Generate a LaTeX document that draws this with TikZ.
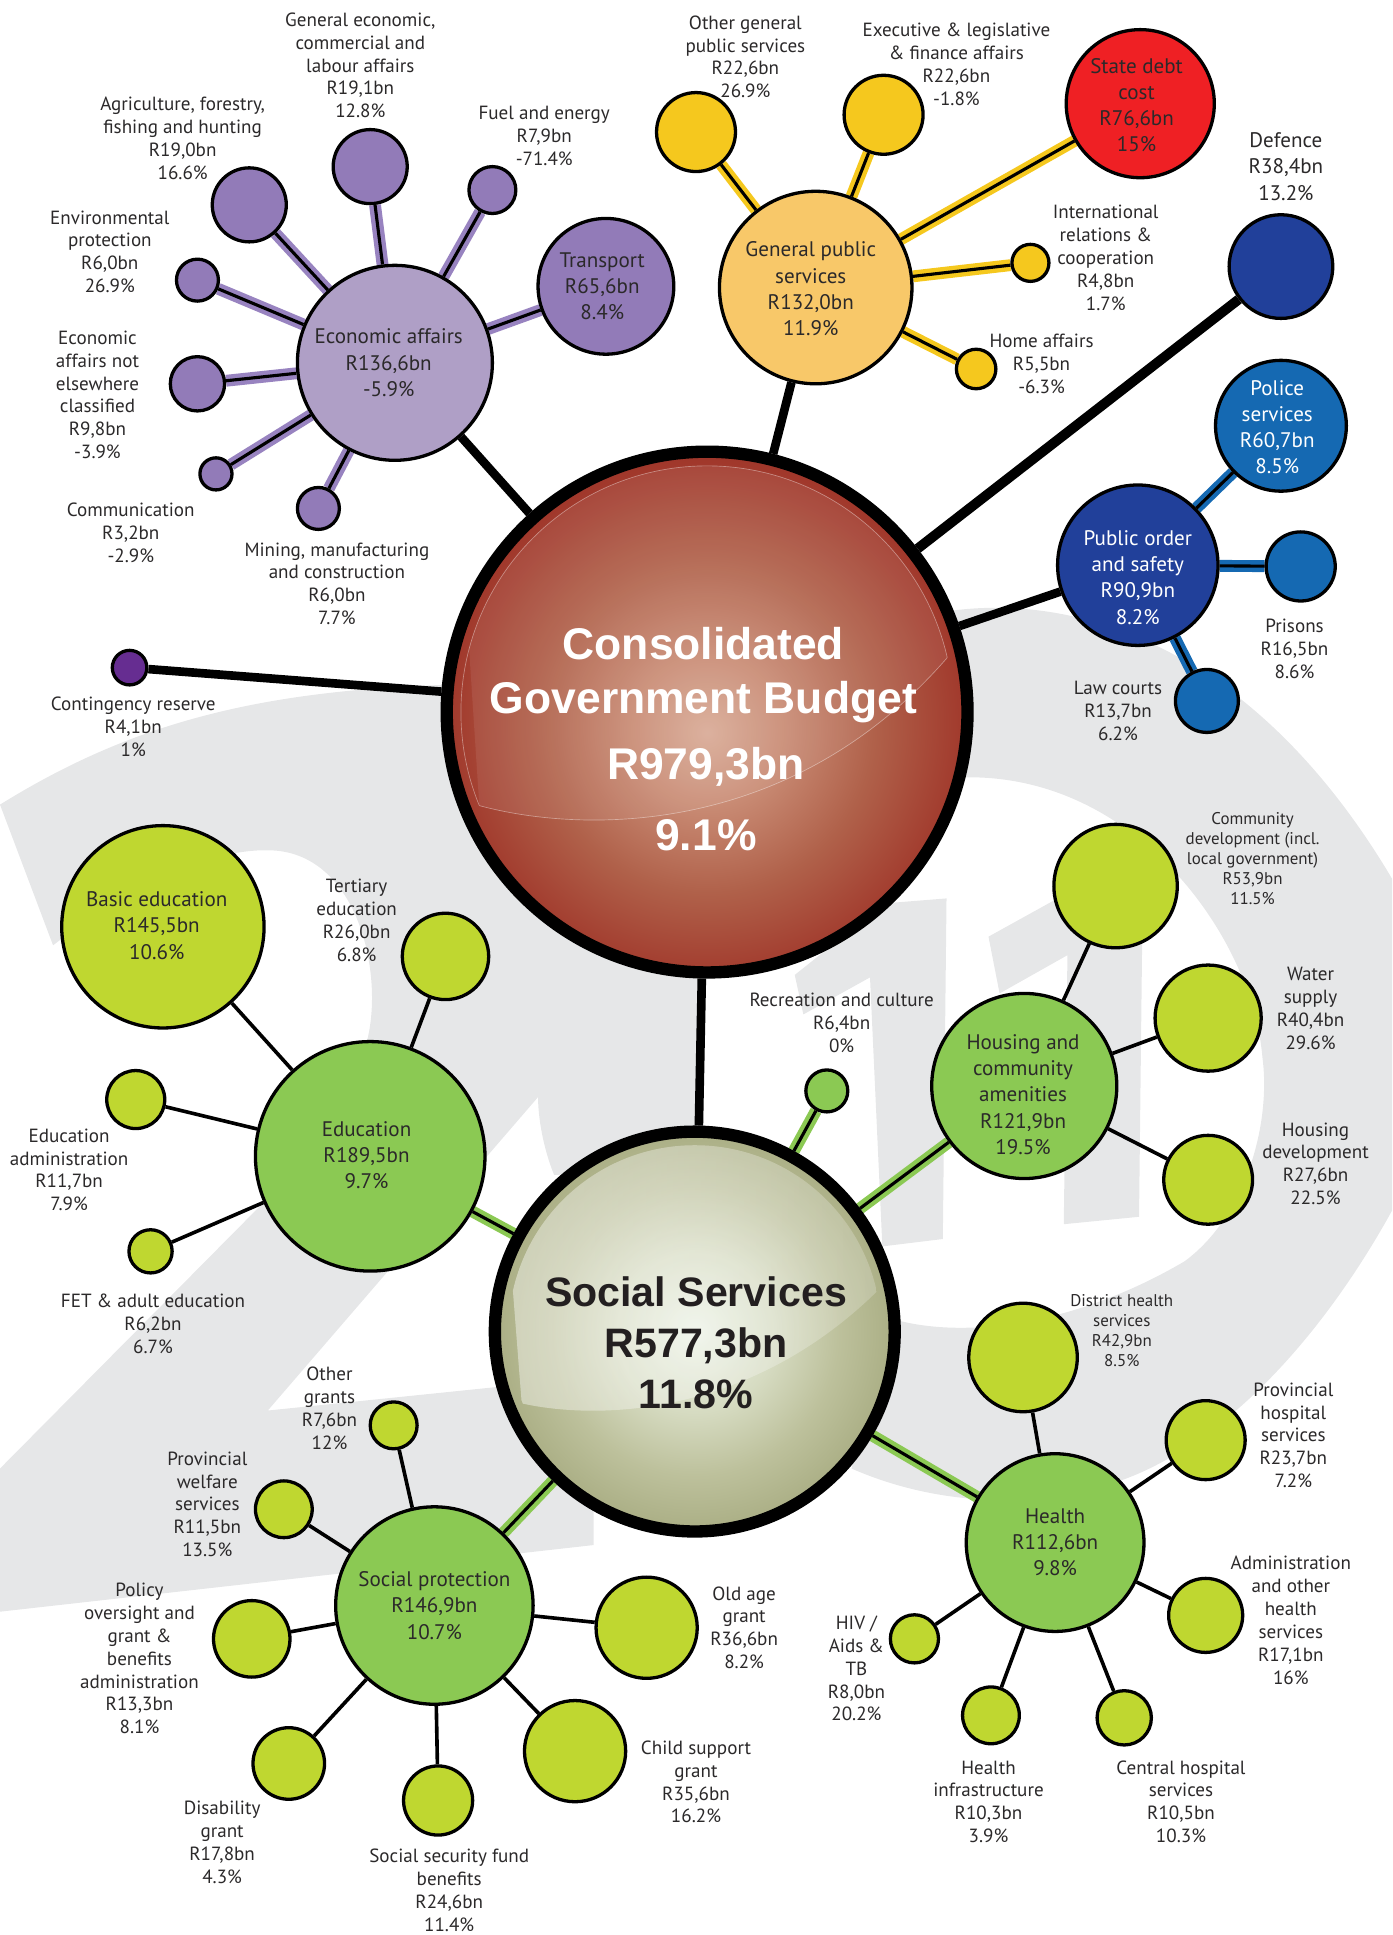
\documentclass[tikz,border=0pt]{standalone}
\usepackage{fontspec}
\usetikzlibrary{fadings}
\setmainfont{PT Sans}
\newfontfamily\heavy{Liberation Sans}
\definecolor{bggray}{HTML}{E6E7E8}
\definecolor{txt}{HTML}{2B292A}
\definecolor{purpleP}{HTML}{AF9FC6}
\definecolor{purpleC}{HTML}{927BB8}
\definecolor{purpleB}{HTML}{9883C0}
\definecolor{yellowP}{HTML}{F8C869}
\definecolor{yellowC}{HTML}{F5C81E}
\definecolor{redC}{HTML}{EF2024}
\definecolor{navy}{HTML}{21409A}
\definecolor{blueC}{HTML}{1569B2}
\definecolor{greenP}{HTML}{8BC953}
\definecolor{greenC}{HTML}{BFD730}
\definecolor{violetC}{HTML}{662D91}
\definecolor{socialtxt}{HTML}{231F20}
\pgfdeclareradialshading{rootball}{\pgfpoint{0bp}{-2bp}}{rgb(0bp)=(0.85,0.67,0.59);rgb(7bp)=(0.79,0.55,0.46);rgb(16bp)=(0.69,0.38,0.29);rgb(25bp)=(0.63,0.22,0.17);rgb(33bp)=(0.60,0.15,0.13);rgb(50bp)=(0.60,0.15,0.13)}
\pgfdeclareradialshading{socialball}{\pgfpoint{0bp}{0bp}}{rgb(0bp)=(0.925,0.95,0.90);rgb(10bp)=(0.84,0.86,0.76);rgb(18bp)=(0.74,0.755,0.61);rgb(27bp)=(0.647,0.663,0.494);rgb(50bp)=(0.647,0.663,0.494)}
\pgfdeclarelayer{bgl}
\pgfdeclarelayer{edgel}
\pgfsetlayers{bgl,edgel,main}
\tikzset{
  rad/.style={minimum size=#1*1.5pt},
  ball/.style={circle,draw=black,line width=2pt,inner sep=0pt,text=txt,align=center,font=\fontsize{12.8}{15.9}\selectfont},
  ppar/.style={ball,fill=purpleP},
  pkid/.style={ball,fill=purpleC},
  ypar/.style={ball,fill=yellowP},
  ykid/.style={ball,fill=yellowC},
  rkid/.style={ball,fill=redC},
  npar/.style={ball,fill=navy,text=white},
  bkid/.style={ball,fill=blueC,text=white},
  gpar/.style={ball,fill=greenP},
  gkid/.style={ball,fill=greenC},
  vkid/.style={ball,fill=violetC},
  lab/.style={align=center,inner sep=0pt,text=txt,font=\fontsize{11.6}{13.9}\selectfont},
  labbig/.style={lab,font=\fontsize{12.8}{15.9}\selectfont},
  labsmall/.style={lab,font=\fontsize{10.3}{12.2}\selectfont},
  trunk/.style={draw=black,line width=5.25pt},
  thin/.style={draw=black,line width=2.2pt},
  band/.style={draw=black,line width=1.9pt,preaction={draw=#1,line width=7.2pt}},
  gloss/.style={white,opacity=#1},
}
\begin{document}
\begin{tikzpicture}[x=.75pt,y=-.75pt]
\useasboundingbox (0,0) rectangle (1128,1568);
% background year
\begin{pgfonlayer}{bgl}
\fill[bggray] (0,652) .. controls (100,590) and (200,560) .. (360,555) -- (450,700) -- (568,790) -- (568,950) -- (449,952) .. controls (440,930) and (436,905) .. (436,889) -- (217,1143) -- (402,1124) -- (481,1120) -- (481,1252) -- (0,1306) -- (0,1190) -- (213,975) -- (297,845) .. controls (312,790) and (290,689) .. (217,689) .. controls (160,688) and (90,730) .. (43,766) -- cycle;
\fill[bggray] (770,495) .. controls (880,480) and (1020,530) .. (1128,712) -- (1128,981) .. controls (1090,1050) and (1020,1150) .. (925,1193) .. controls (860,1222) and (770,1225) .. (690,1190) -- (724,1069) .. controls (780,1085) and (870,1075) .. (960,1022) .. controls (1010,985) and (1030,910) .. (1023,857) .. controls (1015,760) and (920,625) .. (778,630) -- cycle;
\fill[bggray] (644,790) -- (717,732) -- (767,728) -- (764,1004) -- (715,1010) -- (705,792) -- (651,822) -- cycle;
\fill[bggray] (801,759) -- (857,728) -- (926,720) -- (923,986) -- (862,992) -- (865,774) -- (810,805) -- cycle;
\end{pgfonlayer}
% central balls
\node[circle,draw=black,line width=7.5pt,inner sep=0pt,rad=211,shade,shading=rootball] (root) at (573,577) {};
\node[circle,draw=black,line width=7.5pt,inner sep=0pt,rad=162,shade,shading=socialball] (social) at (563,1079) {};
% gloss of the central balls
\begin{scope}
\clip (573,577) circle[radius=199.5];
\fill[gloss=.08] (388.4,652.8) .. controls (470,675) and (640,680) .. (767.6,532.9) -- (767.6,370) -- (370,370) -- cycle;
\draw[white,opacity=.4,line width=.4pt] (388.4,652.8) .. controls (470,675) and (640,680) .. (767.6,532.9);
\end{scope}
\begin{scope}
\clip (388.4,652.8) .. controls (470,675) and (640,680) .. (767.6,532.9) -- (800,370) -- (340,370) -- (340,620) -- cycle;
\draw[white,opacity=.4,line width=.4pt] (573,577) circle[radius=199.5];
\end{scope}
\begin{scope}
\clip (563,1079) circle[radius=151];
\fill[gloss=.2] (422.8,1137.2) .. controls (490,1152) and (610,1145) .. (710.4,1046.7) -- (720,910) -- (405,910) -- cycle;
\fill[white,opacity=.28,path fading=east] (422.8,1137.2) .. controls (490,1152) and (610,1145) .. (710.4,1046.7) -- (720,910) -- (405,910) -- cycle;
\end{scope}
\node[text=white,align=center,font=\heavy\bfseries\fontsize{27}{33}\selectfont,inner sep=0pt] (roottitle) at (570,547) {Consolidated\\Government Budget};
\node[text=white,font=\heavy\bfseries\fontsize{27}{33}\selectfont,inner sep=0pt] (rootval) at (572,621) {R979,3bn};
\node[text=white,font=\heavy\bfseries\fontsize{27}{33}\selectfont,inner sep=0pt] (rootpct) at (572,677) {9.1\%};
\node[text=socialtxt,align=center,font=\heavy\bfseries\fontsize{25}{31}\selectfont,inner sep=0pt] (socialtext) at (564,1088) {Social Services\\R577,3bn\\11.8\%};
% economic affairs
\node[ppar,rad=79] (eco) at (320,294) {};
\node[labbig] (ecotext) at (315,294) {Economic affairs\\R136,6bn\\-5.9\%};
\node[pkid,rad=30] (agri) at (202,166) {};
\node[pkid,rad=30] (gecon) at (300,135) {};
\node[pkid,rad=19] (fuel) at (399,154) {};
\node[pkid,rad=55] (transport) at (491,232) {};
\node[labbig] (transporttext) at (488,232) {Transport\\R65,6bn\\8.4\%};
\node[pkid,rad=17] (envi) at (160,227) {};
\node[pkid,rad=22] (notelse) at (160,311) {};
\node[pkid,rad=13] (comm) at (175,384) {};
\node[pkid,rad=17] (mining) at (258,412) {};
% general public services
\node[ypar,rad=78] (gps) at (661,233) {};
\node[labbig] (gpstext) at (657,234) {General public\\services\\R132,0bn\\11.9\%};
\node[ykid,rad=32] (othergen) at (564,107) {};
\node[ykid,rad=32] (exec) at (716,93) {};
\node[rkid,rad=60] (debt) at (924,84) {};
\node[labbig] (debttext) at (921,85) {State debt\\cost\\R76,6bn\\15\%};
\node[ykid,rad=15] (intl) at (835,213) {};
\node[ykid,rad=16] (home) at (791,299) {};
% defence, order
\node[npar,rad=42] (defence) at (1038,216) {};
\node[npar,rad=65] (pos) at (922,458) {};
\node[labbig,text=white] (postext) at (922,468) {Public order\\and safety\\R90,9bn\\8.2\%};
\node[bkid,rad=53] (police) at (1038,345) {};
\node[labbig,text=white] (policetext) at (1035,346) {Police\\services\\R60,7bn\\8.5\%};
\node[bkid,rad=28] (prisons) at (1054,459) {};
\node[bkid,rad=25.5] (law) at (978,568) {};
\node[vkid,rad=14] (conting) at (105,541) {};
% education
\node[gpar,rad=93] (edu) at (300,937) {};
\node[labbig] (edutext) at (297,936) {Education\\R189,5bn\\9.7\%};
\node[gkid,rad=82] (basic) at (132,751) {};
\node[labbig] (basictext) at (127,750) {Basic education\\R145,5bn\\10.6\%};
\node[gkid,rad=35] (tert) at (361,775) {};
\node[gkid,rad=23.5] (eduadm) at (110,891) {};
\node[gkid,rad=17.5] (fet) at (122,1014) {};
% social protection
\node[gpar,rad=80] (sp) at (352,1301) {Social protection\\R146,9bn\\10.7\%};
\node[gkid,rad=19] (othergr) at (319,1155) {};
\node[gkid,rad=23] (welfare) at (230,1223) {};
\node[gkid,rad=31] (policy) at (204,1328) {};
\node[gkid,rad=29] (disab) at (234,1429) {};
\node[gkid,rad=28] (ssf) at (355,1459) {};
\node[gkid,rad=41] (child) at (466,1419) {};
\node[gkid,rad=41] (oldage) at (524,1319) {};
% housing
\node[gpar,rad=75] (housing) at (830,880) {};
\node[labbig] (housingtext) at (829,887) {Housing and\\community\\amenities\\R121,9bn\\19.5\%};
\node[gkid,rad=50] (commdev) at (904,718) {};
\node[gkid,rad=43] (water) at (979,825) {};
\node[gkid,rad=36] (housedev) at (979,956) {};
\node[gpar,rad=17] (recre) at (670,884) {};
% health
\node[gpar,rad=72] (health) at (855,1250) {Health\\R112,6bn\\9.8\%};
\node[gkid,rad=44] (district) at (829,1100) {};
\node[gkid,rad=32] (provh) at (977,1167) {};
\node[gkid,rad=30] (adminh) at (977,1309) {};
\node[gkid,rad=22] (central) at (911,1392) {};
\node[gkid,rad=23] (infra) at (803,1390) {};
\node[gkid,rad=19.5] (hiv) at (741,1328) {};
% connectors
\begin{pgfonlayer}{edgel}
\draw[trunk] (root) -- (eco);
\draw[trunk] (root) -- (gps);
\draw[trunk,line width=6pt] (root) -- (defence);
\draw[trunk] (root) -- (pos);
\draw[trunk] (root) -- (conting);
\draw[trunk] (root) -- (social);
\foreach \k in {agri,gecon,fuel,transport,envi,notelse,comm,mining} {\draw[band=purpleB] (eco) -- (\k);}
\foreach \k in {othergen,exec,debt,intl,home} {\draw[band=yellowC] (gps) -- (\k);}
\foreach \k in {police,prisons,law} {\draw[band=blueC] (pos) -- (\k);}
\foreach \k in {edu,recre,housing,health,sp} {\draw[band=greenP] (social) -- (\k);}
\foreach \k in {basic,tert,eduadm,fet} {\draw[thin] (edu) -- (\k);}
\foreach \k in {commdev,water,housedev} {\draw[thin] (housing) -- (\k);}
\foreach \k in {othergr,welfare,policy,disab,ssf,child,oldage} {\draw[thin] (sp) -- (\k);}
\foreach \k in {district,provh,adminh,central,infra,hiv} {\draw[thin] (health) -- (\k);}
\end{pgfonlayer}
% labels
\node[lab] (l1) at (292,53) {General economic,\\commercial and\\labour affairs\\R19,1bn\\12.8\%};
\node[lab] (l2) at (148,112) {Agriculture, forestry,\\fishing and hunting\\R19,0bn\\16.6\%};
\node[lab] (l3) at (441,110) {Fuel and energy\\R7,9bn\\-71.4\%};
\node[lab] (l4) at (89,204) {Environmental\\protection\\R6,0bn\\26.9\%};
\node[lab] (l5) at (79,320) {Economic\\affairs not\\elsewhere\\classified\\R9,8bn\\-3.9\%};
\node[lab] (l6) at (106,432) {Communication\\R3,2bn\\-2.9\%};
\node[lab] (l7) at (273,473) {Mining, manufacturing\\and construction\\R6,0bn\\7.7\%};
\node[lab] (l8) at (604,46) {Other general\\public services\\R22,6bn\\26.9\%};
\node[lab] (l9) at (775,52) {Executive \& legislative\\\& finance affairs\\R22,6bn\\-1.8\%};
\node[lab] (l10) at (896,209) {International\\relations \&\\cooperation\\R4,8bn\\1.7\%};
\node[lab] (l11) at (844,295) {Home affairs\\R5,5bn\\-6.3\%};
\node[labbig] (l12) at (1042,135) {Defence\\R38,4bn\\13.2\%};
\node[lab] (l13) at (1049,526) {Prisons\\R16,5bn\\8.6\%};
\node[lab] (l14) at (906,576) {Law courts\\R13,7bn\\6.2\%};
\node[lab] (l15) at (108,589) {Contingency reserve\\R4,1bn\\1\%};
\node[labsmall] (l16) at (1015,696) {Community\\development (incl.\\local government)\\R53,9bn\\11.5\%};
\node[lab] (l17) at (1062,817) {Water\\supply\\R40,4bn\\29.6\%};
\node[lab] (l18) at (1066,943) {Housing\\development\\R27,6bn\\22.5\%};
\node[lab] (l19) at (682,829) {Recreation and culture\\R6,4bn\\0\%};
\node[lab] (l20) at (289,746) {Tertiary\\education\\R26,0bn\\6.8\%};
\node[lab] (l21) at (56,948) {Education\\administration\\R11,7bn\\7.9\%};
\node[lab] (l22) at (124,1073) {FET \& adult education\\R6,2bn\\6.7\%};
\node[lab] (l23) at (267,1141) {Other\\grants\\R7,6bn\\12\%};
\node[lab] (l24) at (168,1219) {Provincial\\welfare\\services\\R11,5bn\\13.5\%};
\node[lab] (l25) at (113,1344) {Policy\\oversight and\\grant \&\\benefits\\administration\\R13,3bn\\8.1\%};
\node[lab] (l26) at (180,1493) {Disability\\grant\\R17,8bn\\4.3\%};
\node[lab] (l27) at (364,1532) {Social security fund\\benefits\\R24,6bn\\11.4\%};
\node[lab] (l28) at (564,1444) {Child support\\grant\\R35,6bn\\16.2\%};
\node[lab] (l29) at (603,1319) {Old age\\grant\\R36,6bn\\8.2\%};
\node[lab] (l30) at (694,1352) {HIV /\\Aids \&\\TB\\R8,0bn\\20.2\%};
\node[lab] (l31) at (801,1460) {Health\\infrastructure\\R10,3bn\\3.9\%};
\node[lab] (l32) at (957,1460) {Central hospital\\services\\R10,5bn\\10.3\%};
\node[lab] (l33) at (1046,1313) {Administration\\and other\\health\\services\\R17,1bn\\16\%};
\node[lab] (l34) at (1048,1163) {Provincial\\hospital\\services\\R23,7bn\\7.2\%};
\node[labsmall] (l35) at (909,1078) {District health\\services\\R42,9bn\\8.5\%};
\end{tikzpicture}
\end{document}
